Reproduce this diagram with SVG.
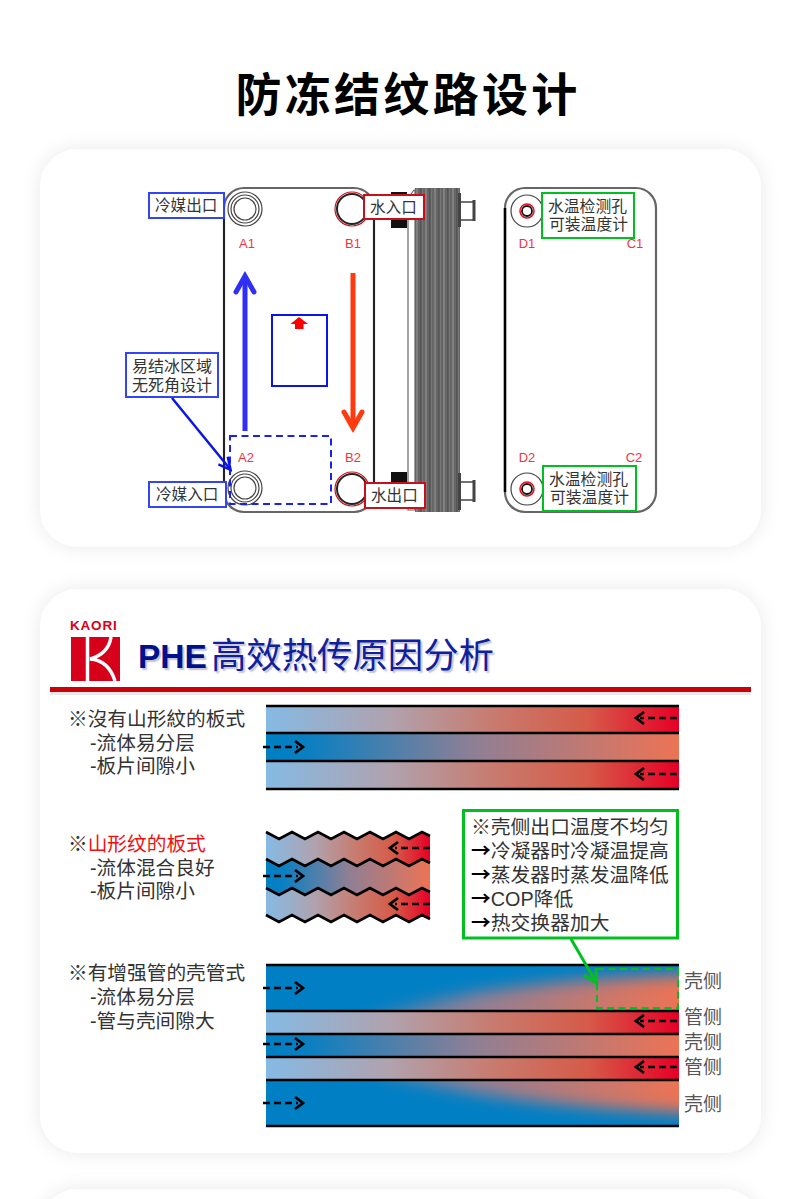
<svg xmlns="http://www.w3.org/2000/svg" width="790" height="1199" viewBox="0 0 790 1199">
<style>
text{font-family:"Liberation Sans","Noto Sans CJK SC",sans-serif;fill:#333}
.cjk{font-family:"Noto Sans CJK SC","Liberation Sans",sans-serif}
.lab{font-size:15.6px}
.port{font-size:13px;fill:#f5333f;text-anchor:middle}
.side{font-size:19.7px}
.note{font-size:19.8px}
.arw{font-family:"Noto Sans CJK SC",sans-serif;font-weight:700;fill:#000}
.tag{font-size:19px;fill:#555}
.bl{fill:#fff;stroke:#3344f0;stroke-width:2}
.rd{fill:#fff;stroke:#c8101c;stroke-width:2}
.gr{fill:#fff;stroke:#00c020;stroke-width:2}
.plate{fill:#fff;stroke:#666;stroke-width:2.2}
.ln{stroke:#000;stroke-width:2.6;fill:none}
.zig{stroke:#000;stroke-width:2.6;fill:none;stroke-linejoin:miter}
.dash{stroke:#000;stroke-width:2.4;fill:none;stroke-dasharray:7 4}
.head{stroke:#000;stroke-width:2.8;fill:none}
.ring{fill:none;stroke:#444;stroke-width:1.2}
</style>
<defs>
<filter id="soft" x="-10%" y="-10%" width="120%" height="120%"><feDropShadow dx="0" dy="0" stdDeviation="9" flood-color="#000" flood-opacity=".09"/></filter>
<filter id="blur" x="-20%" y="-60%" width="140%" height="220%"><feGaussianBlur stdDeviation="8"/></filter>
<linearGradient id="tube"><stop offset="0" stop-color="#85bae4"/><stop offset=".3" stop-color="#b0a2ae"/><stop offset=".55" stop-color="#c87b6f"/><stop offset=".78" stop-color="#d65a48"/><stop offset="1" stop-color="#e60026"/></linearGradient>
<linearGradient id="shell"><stop offset="0" stop-color="#007fc4"/><stop offset=".1" stop-color="#0a7fc2"/><stop offset=".5" stop-color="#8e7f95"/><stop offset="1" stop-color="#ec7355"/></linearGradient>
<pattern id="fins" width="9" height="10" patternUnits="userSpaceOnUse" x="415"><rect width="9" height="10" fill="#666"/><rect x="1" width="2" height="10" fill="#808080"/><rect x="5" width="1.5" height="10" fill="#565656"/><rect x="7" width="1" height="10" fill="#777"/></pattern>
<clipPath id="c1"><rect x="266" y="965" width="413" height="46"/></clipPath>
<clipPath id="c5"><rect x="266" y="1080" width="413" height="46"/></clipPath>
<marker id="mBlue" markerUnits="userSpaceOnUse" markerWidth="16" markerHeight="16" refX="13" refY="8" orient="auto"><path d="M2 2L14 8L2 14" fill="none" stroke="#0a14e6" stroke-width="2.5"/></marker>
<marker id="mGreen" markerUnits="userSpaceOnUse" markerWidth="18" markerHeight="18" refX="15" refY="9" orient="auto"><path d="M3 2L16 9L3 16" fill="none" stroke="#00c020" stroke-width="3"/></marker>
</defs>

<g id="cards">
<rect x="40" y="149" width="721" height="398" rx="38" fill="#fff" filter="url(#soft)"/>
<rect x="40" y="589" width="721" height="564" rx="38" fill="#fff" filter="url(#soft)"/>
<rect x="40" y="1189" width="721" height="300" rx="38" fill="#fff" filter="url(#soft)"/>
</g>
<text x="408" y="111" class="cjk" text-anchor="middle" style="font-size:46px;font-weight:700;letter-spacing:3.300px;fill:#000">防冻结纹路设计</text>

<g id="side-view">
<rect x="415" y="188" width="45" height="324" fill="url(#fins)"/>
<path d="M408 198L414 190H415V510H408Z" fill="#fff" stroke="#666" stroke-width="1.2"/>
<rect x="391" y="192" width="16" height="36" fill="#111"/>
<rect x="391" y="472" width="16" height="36" fill="#111"/>
<path d="M461 202H473M461 220H473M461 482H473M461 500H473" stroke="#444" stroke-width="1.6"/>
<path d="M459.500 193V227M459.500 473V510M474 200V221M474 480V502" stroke="#444" stroke-width="3"/>
</g>
<g id="plate-front">
<rect x="224" y="188" width="150" height="324" rx="20" class="plate"/>
<path d="M224 208V492M374 208V492" stroke="#222" stroke-width="2"/>
</g>
<g id="holes-front">
<circle cx="245" cy="209" r="17" class="ring"/><circle cx="245" cy="209" r="14" class="ring"/><circle cx="245" cy="209" r="11" class="ring"/>
<circle cx="245" cy="488" r="17" class="ring"/><circle cx="245" cy="488" r="14" class="ring"/><circle cx="245" cy="488" r="11" class="ring"/>
<circle cx="352" cy="209" r="17" fill="#fff" stroke="#c8101c" stroke-width="1.2"/><circle cx="352" cy="209" r="15" fill="#fff" stroke="#222" stroke-width="2"/>
<circle cx="352" cy="489" r="17" fill="#fff" stroke="#c8101c" stroke-width="1.2"/><circle cx="352" cy="489" r="15" fill="#fff" stroke="#222" stroke-width="2"/>
</g>
<g id="port-labels-front">
<text x="247" y="248" class="port">A1</text><text x="353" y="248" class="port">B1</text>
<text x="246" y="462" class="port">A2</text><text x="353" y="462" class="port">B2</text>
</g>
<g id="mini-plate">
<rect x="272" y="315" width="55" height="71" fill="#fff" stroke="#0a14e6" stroke-width="2"/>
<path d="M299 317L308 324H303.500V329H295V324H290.500Z" fill="#f00"/>
</g>
<rect id="freeze-zone" x="230" y="436" width="101" height="68" fill="none" stroke="#1a22ee" stroke-width="2" stroke-dasharray="7 4.500"/>
<g id="n-refrigerant-out"><rect x="149" y="193" width="75" height="25" class="bl"/><text x="155" y="211" class="lab">冷媒出口</text></g>
<g id="n-water-in"><rect x="364" y="195" width="60" height="24" class="rd"/><text x="370" y="213" class="lab">水入口</text></g>
<g id="n-refrigerant-in"><rect x="149" y="482" width="77" height="25" class="bl"/><text x="156" y="500" class="lab">冷媒入口</text></g>
<g id="n-water-out"><rect x="365" y="483" width="60" height="25" class="rd"/><text x="371" y="501" class="lab">水出口</text></g>
<g id="n-freeze-note"><rect x="126" y="353" width="92" height="44" class="bl"/><text x="132" y="372" style="font-size:16px">易结冰区域</text><text x="132" y="391" style="font-size:16px">无死角设计</text></g>

<g id="plate-back">
<rect x="505" y="188" width="151" height="324" rx="20" class="plate"/>
<path d="M505 208V492" stroke="#000" stroke-width="2.500"/>
<circle cx="527" cy="211" r="16" class="ring"/><circle cx="527" cy="211" r="7" fill="#fff" stroke="#e01020" stroke-width="1.500"/><circle cx="527" cy="211" r="5" fill="#fff" stroke="#111" stroke-width="1.800"/>
<circle cx="527" cy="489" r="16" class="ring"/><circle cx="527" cy="489" r="7" fill="#fff" stroke="#e01020" stroke-width="1.500"/><circle cx="527" cy="489" r="5" fill="#fff" stroke="#111" stroke-width="1.800"/>
<text x="527" y="248" class="port">D1</text><text x="635" y="248" class="port">C1</text>
<text x="527" y="462" class="port">D2</text><text x="634" y="462" class="port">C2</text>
</g>
<g id="n-temp-top"><rect x="542" y="193" width="92" height="45" class="gr"/><text x="548" y="212" style="font-size:15.800px">水温检测孔</text><text x="549" y="230" style="font-size:15.800px">可装温度计</text></g>
<g id="n-temp-bottom"><rect x="543" y="466" width="93" height="45" class="gr"/><text x="549" y="485" style="font-size:15.800px">水温检测孔</text><text x="550" y="503" style="font-size:15.800px">可装温度计</text></g>

<g id="logo">
<text x="70" y="630" style="font-size:13.500px;font-weight:700;fill:#d7001a;letter-spacing:.8px">KAORI</text>
<rect x="71" y="637" width="49" height="44" fill="#d7001a"/>
<path d="M87.500 637V681" stroke="#fff" stroke-width="3.500"/>
<path d="M111 637C109 650 101 656 90 659C103 660 111 668 115 681" fill="none" stroke="#fff" stroke-width="3.500"/>
</g>
<g id="heading">
<text x="138" y="668" style="font-size:33.500px;font-weight:700;fill:#00118c;text-shadow:2px 2px 1.500px #c0c0d0">PHE<tspan dx="4" style="font-size:35.400px;fill:#10209a;font-weight:400">高效热传原因分析</tspan></text>
<rect x="50" y="687" width="701" height="5" fill="#cc0008"/>
<rect x="50" y="692" width="701" height="3" fill="#e8e8e8"/>
</g>

<g id="text-plain"><text x="68" y="726" class="side">※沒有山形紋的板式</text><text x="90" y="750" class="side">-流体易分层</text><text x="90" y="773" class="side">-板片间隙小</text></g>
<g id="text-chevron"><text x="68" y="851" class="side">※<tspan style="fill:#f01010">山形纹的板式</tspan></text><text x="90" y="875" class="side">-流体混合良好</text><text x="90" y="898" class="side">-板片间隙小</text></g>
<g id="text-shell"><text x="68" y="980" class="side">※有增强管的壳管式</text><text x="90" y="1004" class="side">-流体易分层</text><text x="90" y="1028" class="side">-管与壳间隙大</text></g>

<g id="bands-plain">
<rect x="266" y="706" width="413" height="27" fill="url(#tube)"/>
<rect x="266" y="733" width="413" height="28" fill="url(#shell)"/>
<rect x="266" y="761" width="413" height="28" fill="url(#tube)"/>
<path class="ln" d="M266 706H679M266 733H679M266 761H679M266 789H679"/>
<path class="dash" d="M677 718H640M263 747H298M677 774H640"/>
<path class="head" d="M644 712L636 718L644 724M295 741L303 747L295 753M644 768L636 774L644 780"/>
</g>
<g id="bands-chevron">
<path fill="url(#tube)" d="M266 832L279 839L292 832L305 839L318 832L331 839L344 832L357 839L370 832L383 839L396 832L409 839L422 832L430 836V863L422 859L409 866L396 859L383 866L370 859L357 866L344 859L331 866L318 859L305 866L292 859L279 866L266 859Z"/>
<path fill="url(#shell)" d="M266 859L279 866L292 859L305 866L318 859L331 866L344 859L357 866L370 859L383 866L396 859L409 866L422 859L430 863V892L422 888L409 895L396 888L383 895L370 888L357 895L344 888L331 895L318 888L305 895L292 888L279 895L266 888Z"/>
<path fill="url(#tube)" d="M266 888L279 895L292 888L305 895L318 888L331 895L344 888L357 895L370 888L383 895L396 888L409 895L422 888L430 892V919L422 915L409 922L396 915L383 922L370 915L357 922L344 915L331 922L318 915L305 922L292 915L279 922L266 915Z"/>
<path class="zig" d="M266 832L279 839L292 832L305 839L318 832L331 839L344 832L357 839L370 832L383 839L396 832L409 839L422 832L430 836"/>
<path class="zig" d="M266 859L279 866L292 859L305 866L318 859L331 866L344 859L357 866L370 859L383 866L396 859L409 866L422 859L430 863"/>
<path class="zig" d="M266 888L279 895L292 888L305 895L318 888L331 895L344 888L357 895L370 888L383 895L396 888L409 895L422 888L430 892"/>
<path class="zig" d="M266 915L279 922L292 915L305 922L318 915L331 922L344 915L357 922L370 915L383 922L396 915L409 922L422 915L430 919"/>
<path class="dash" d="M430 848H395M263 876H298M430 904H395"/>
<path class="head" d="M398 842L390 848L398 854M295 870L303 876L295 882M398 898L390 904L398 910"/>
</g>
<g id="n-shell-note">
<rect x="463.500" y="810.500" width="214" height="127.500" fill="#fff" stroke="#00c020" stroke-width="3"/>
<text x="471" y="834" class="note">※壳侧出口温度不均匀</text>
<text x="471" y="858" class="note"><tspan class="arw">→</tspan>冷凝器时冷凝温提高</text>
<text x="471" y="882" class="note"><tspan class="arw">→</tspan>蒸发器时蒸发温降低</text>
<text x="471" y="906" class="note"><tspan class="arw">→</tspan>COP降低</text>
<text x="471" y="930" class="note"><tspan class="arw">→</tspan>热交换器加大</text>
</g>
<g id="bands-shell">
<rect x="266" y="965" width="413" height="46" fill="url(#shell)"/>
<g clip-path="url(#c1)"><path d="M240 950H700V975C600 977 440 985 330 1032H240Z" fill="#007fc4" filter="url(#blur)"/></g>
<rect x="266" y="1011" width="413" height="23" fill="url(#tube)"/>
<rect x="266" y="1034" width="413" height="23" fill="url(#shell)"/>
<rect x="266" y="1057" width="413" height="23" fill="url(#tube)"/>
<rect x="266" y="1080" width="413" height="46" fill="url(#shell)"/>
<g clip-path="url(#c5)"><path d="M240 1060H330C440 1098 600 1110 700 1113V1145H240Z" fill="#007fc4" filter="url(#blur)"/></g>
<path class="ln" d="M266 965H679M266 1011H679M266 1034H679M266 1057H679M266 1080H679M266 1126H679"/>
<path class="dash" d="M263 988H298M677 1021H640M263 1044H298M677 1067H640M263 1103H298"/>
<path class="head" d="M295 982L303 988L295 994M644 1015L636 1021L644 1027M295 1038L303 1044L295 1050M644 1061L636 1067L644 1073M295 1097L303 1103L295 1109"/>
<rect x="597" y="969" width="81" height="39" fill="none" stroke="#00c020" stroke-width="2" stroke-dasharray="7 4.500"/>
</g>
<g id="shell-tags">
<text x="684" y="988" class="tag">壳侧</text><text x="684" y="1024" class="tag">管侧</text><text x="684" y="1049" class="tag">壳侧</text><text x="684" y="1074" class="tag">管侧</text><text x="684" y="1111" class="tag">壳侧</text>
</g>
<g id="connectors">
<path d="M245 431V280" stroke="#2f2ff5" stroke-width="5" fill="none"/>
<path d="M236 292L245 276L254 292" stroke="#2f2ff5" stroke-width="5" fill="none" stroke-linecap="round"/>
<path d="M353 273V426" stroke="#ff3a10" stroke-width="5" fill="none"/>
<path d="M344 412L353 428L362 412" stroke="#ff3a10" stroke-width="5" fill="none" stroke-linecap="round"/>
<path d="M172 398L230 469" stroke="#0a14e6" stroke-width="2.500" fill="none" marker-end="url(#mBlue)"/>
<path d="M571 939L596 982" stroke="#00c020" stroke-width="3" fill="none" marker-end="url(#mGreen)"/>
</g>
</svg>
